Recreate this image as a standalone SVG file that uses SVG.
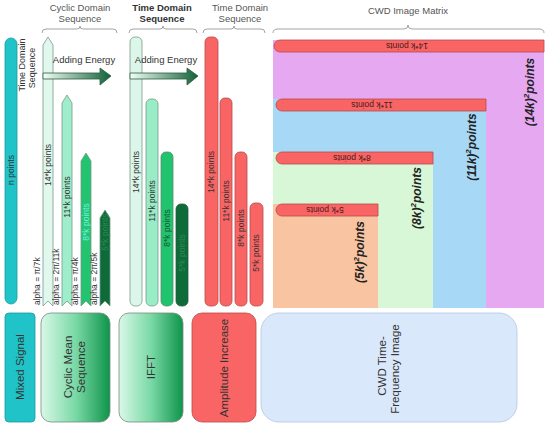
<svg xmlns="http://www.w3.org/2000/svg" width="550" height="428" viewBox="0 0 550 428">
<defs>
<linearGradient id="energy" x1="0" y1="0" x2="1" y2="0">
<stop offset="0" stop-color="#f2fff6"/>
<stop offset="1" stop-color="#12603a"/>
</linearGradient>
<linearGradient id="greenbox" x1="0" y1="0" x2="1" y2="0">
<stop offset="0" stop-color="#d9f8e8"/>
<stop offset="0.5" stop-color="#7ad9a6"/>
<stop offset="1" stop-color="#0e944a"/>
</linearGradient>
<style>
text{font-family:"Liberation Sans",Arial,sans-serif;}
.hdr{font-size:9.5px;fill:#555;text-anchor:middle;}
.brace{fill:none;stroke:#999;stroke-width:0.9;}
.lbl{font-size:8.5px;fill:#333;text-anchor:middle;}
.alpha{font-size:8.5px;fill:#333;}
.red{fill:#f96565;stroke:#b84a4a;stroke-width:0.8;}
.big{font-size:11.5px;text-anchor:middle;fill:#333;}
.mat{font-size:12px;font-weight:bold;font-style:italic;fill:#222;text-anchor:middle;}
.ar{stroke:#7a9a88;stroke-width:0.8;}
</style>
</defs>

<g id="headers">
<text class="hdr" x="80" y="11">Cyclic Domain</text>
<text class="hdr" x="80" y="22">Sequence</text>
<path class="brace" d="M42,33 Q42,29 46,29 L77,29 Q80,29 80,26 Q80,29 83,29 L113,29 Q117,29 117,33"/>
<text class="hdr" x="162" y="11" style="fill:#333;font-weight:bold">Time Domain</text>
<text class="hdr" x="162" y="22" style="fill:#333;font-weight:bold">Sequence</text>
<path class="brace" d="M129,33 Q129,29 133,29 L160,29 Q163,29 163,26 Q163,29 166,29 L193,29 Q197,29 197,33"/>
<text class="hdr" x="240" y="11">Time Domain</text>
<text class="hdr" x="240" y="22">Sequence</text>
<path class="brace" d="M203,33 Q203,29 207,29 L231,29 Q234,29 234,26 Q234,29 237,29 L261,29 Q265,29 265,33"/>
<text class="hdr" x="408" y="14">CWD Image Matrix</text>
<path class="brace" d="M273,33 Q273,29 278,29 L404,29 Q408,29 408,25 Q408,29 412,29 L539,29 Q544,29 544,33"/>
</g>

<g id="n-points">
<rect x="5" y="38" width="12" height="266" rx="6" fill="#20c4c8" stroke="#169a9e" stroke-width="0.8"/>
<text class="lbl" transform="translate(11,170) rotate(-90)" dy="3">n points</text>
<text class="hdr" style="font-size:9px;fill:#333" transform="translate(25,65) rotate(-90)">Time Domain</text>
<text class="hdr" style="font-size:9px;fill:#333" transform="translate(35,68) rotate(-90)">Sequence</text>
</g>

<g id="cyclic-arrows">
<path class="ar" d="M43,306 L43,45 L48,37 L53,45 L53,306 L48,301 Z" fill="#e0f8ed"/>
<path class="ar" d="M62,306 L62,103 L67,95 L72,103 L72,306 L67,301 Z" fill="#9eedcb"/>
<path class="ar" d="M81,306 L81,161 L86,153 L91,161 L91,306 L86,301 Z" fill="#22c46f"/>
<path class="ar" d="M100,306 L100,218 L105,210 L110,218 L110,306 L105,301 Z" fill="#0d6a39"/>
<text class="lbl" transform="translate(48,165) rotate(-90)" dy="3">14*k points</text>
<text class="lbl" transform="translate(67,197) rotate(-90)" dy="3">11*k points</text>
<text class="lbl" style="fill:#6ff0e0" transform="translate(86,222) rotate(-90)" dy="3">8*k points</text>
<text class="lbl" style="fill:#2b8a52" transform="translate(105,232) rotate(-90)" dy="3">5*k points</text>
<text class="alpha" transform="translate(40,305) rotate(-90)">alpha = π/7k</text>
<text class="alpha" transform="translate(59,305) rotate(-90)">alpha = 2π/11k</text>
<text class="alpha" transform="translate(78,305) rotate(-90)">alpha = π/4k</text>
<text class="alpha" transform="translate(97,305) rotate(-90)">alpha = 2π/5k</text>
</g>

<g id="energy-1">
<text class="hdr" style="font-size:9.5px;fill:#333" x="84" y="63">Adding Energy</text>
<path d="M43,73 L100,73 L100,68 L111,76 L100,85 L100,79 L43,79 Z" fill="url(#energy)" stroke="#2c5a3e" stroke-width="0.8"/>
</g>

<g id="ifft-bars">
<rect x="130" y="37" width="12" height="269" rx="5" fill="#dcf7ea" stroke="#7a9a88" stroke-width="0.8"/>
<rect x="146" y="99" width="12" height="207" rx="5" fill="#98ecc6" stroke="#7a9a88" stroke-width="0.8"/>
<rect x="161" y="152" width="12" height="154" rx="5" fill="#20c46e" stroke="#5a8a6a" stroke-width="0.8"/>
<rect x="176" y="204" width="12" height="102" rx="5" fill="#0e6b3a" stroke="#2a5a3a" stroke-width="0.8"/>
<text class="lbl" transform="translate(136,172) rotate(-90)" dy="3">14*k points</text>
<text class="lbl" transform="translate(152,201) rotate(-90)" dy="3">11*k points</text>
<text class="lbl" style="fill:#1a5530" transform="translate(167,228) rotate(-90)" dy="3">8*k points</text>
<text class="lbl" style="fill:#2b8a52" transform="translate(182,253) rotate(-90)" dy="3">5*k points</text>
</g>

<g id="energy-2">
<text class="hdr" style="font-size:9.5px;fill:#333" x="166" y="63">Adding Energy</text>
<path d="M130,73 L187,73 L187,68 L198,76 L187,85 L187,79 L130,79 Z" fill="url(#energy)" stroke="#2c5a3e" stroke-width="0.8"/>
</g>

<g id="amp-bars">
<rect class="red" x="205" y="37" width="13" height="269" rx="5"/>
<rect class="red" x="220" y="98" width="12" height="208" rx="5"/>
<rect class="red" x="235" y="152" width="12" height="154" rx="5"/>
<rect class="red" x="250" y="203" width="13" height="103" rx="5"/>
<text class="lbl" transform="translate(211,172) rotate(-90)" dy="3">14*k points</text>
<text class="lbl" transform="translate(226,201) rotate(-90)" dy="3">11*k points</text>
<text class="lbl" transform="translate(241,228) rotate(-90)" dy="3">8*k points</text>
<text class="lbl" transform="translate(256,253) rotate(-90)" dy="3">5*k points</text>
</g>

<g id="cwd-matrix">
<rect x="273" y="40" width="271" height="268" fill="#e5a8f1"/>
<rect x="273" y="99" width="213" height="209" fill="#a7d8f5"/>
<rect x="273" y="152" width="160" height="156" fill="#d7f7d6"/>
<rect x="273" y="204" width="105" height="104" fill="#f9c4a1"/>
<path class="red" d="M280,40 L544,40 L544,52 L280,52 A6,6 0 0 1 280,40 Z"/>
<path class="red" d="M282,99 L486,99 L486,111 L282,111 A6,6 0 0 1 282,99 Z"/>
<path class="red" d="M282,152 L433,152 L433,164 L282,164 A6,6 0 0 1 282,152 Z"/>
<path class="red" d="M282,204 L378,204 L378,216 L282,216 A6,6 0 0 1 282,204 Z"/>
<text class="lbl" style="fill:#4a1a1a" transform="translate(407,46) rotate(180)" dy="3">14*k points</text>
<text class="lbl" style="fill:#4a1a1a" transform="translate(372,105) rotate(180)" dy="3">11*k points</text>
<text class="lbl" style="fill:#4a1a1a" transform="translate(352,158) rotate(180)" dy="3">8*k points</text>
<text class="lbl" style="fill:#4a1a1a" transform="translate(325,210) rotate(180)" dy="3">5*k points</text>
<text class="mat" transform="translate(534,92) rotate(-90)">(14k)<tspan font-size="8" dy="-5">2</tspan><tspan dy="5">points</tspan></text>
<text class="mat" transform="translate(476,147) rotate(-90)">(11k)<tspan font-size="8" dy="-5">2</tspan><tspan dy="5">points</tspan></text>
<text class="mat" transform="translate(421,198) rotate(-90)">(8k)<tspan font-size="8" dy="-5">2</tspan><tspan dy="5">points</tspan></text>
<text class="mat" transform="translate(364,252) rotate(-90)">(5k)<tspan font-size="8" dy="-5">2</tspan><tspan dy="5">points</tspan></text>
</g>

<g id="mixed-signal">
<rect x="5" y="313" width="30" height="109" rx="4" fill="#20c4c8" stroke="#169a9e" stroke-width="0.8"/>
<text class="big" transform="translate(24,367) rotate(-90)">Mixed Signal</text>
</g>
<g id="cyclic-mean">
<rect x="41" y="313" width="69" height="109" rx="10" fill="url(#greenbox)" stroke="#7a8a80" stroke-width="0.8"/>
<text class="big" transform="translate(72,367) rotate(-90)">Cyclic Mean</text>
<text class="big" transform="translate(85,367) rotate(-90)">Sequence</text>
</g>
<g id="ifft">
<rect x="119" y="313" width="64" height="109" rx="10" fill="url(#greenbox)" stroke="#7a8a80" stroke-width="0.8"/>
<text class="big" transform="translate(155,367) rotate(-90)">IFFT</text>
</g>
<g id="amplitude">
<rect x="192" y="313" width="64" height="109" rx="10" fill="#f96565" stroke="#b84a4a" stroke-width="0.8"/>
<text class="big" transform="translate(228,368) rotate(-90)">Amplitude Increase</text>
</g>
<g id="cwd-image">
<rect x="261" y="313" width="256" height="109" rx="18" fill="#dae8fb" stroke="#b4c6e0" stroke-width="0.8"/>
<text class="big" transform="translate(386,366) rotate(-90)">CWD Time-</text>
<text class="big" transform="translate(399,369) rotate(-90)">Frequency Image</text>
</g>
</svg>
